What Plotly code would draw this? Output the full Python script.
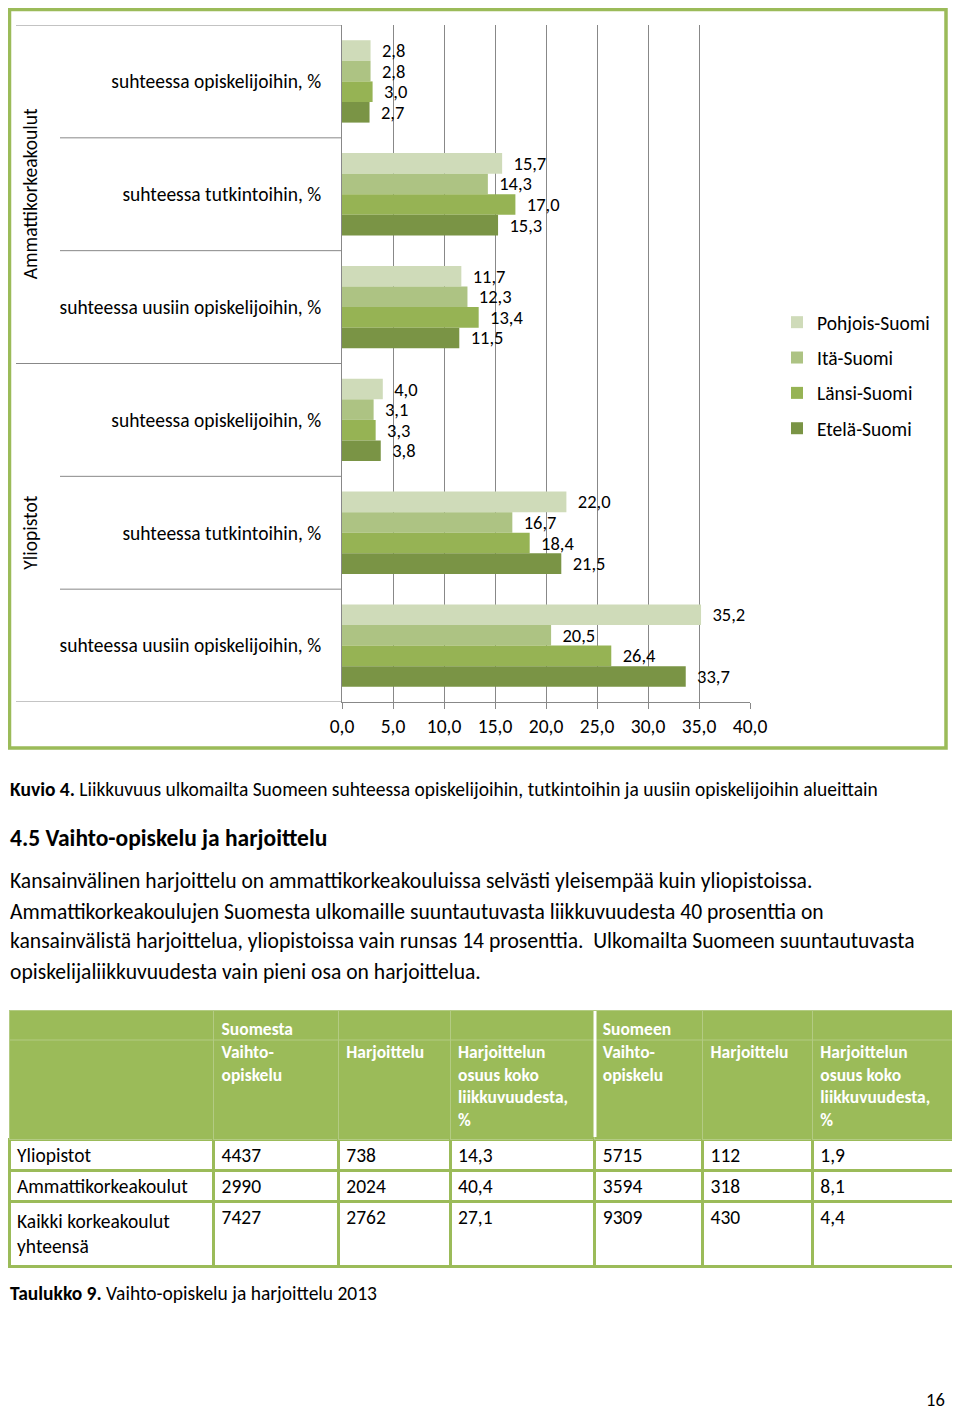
import plotly.graph_objects as go

W, H = 960, 1409
OFF = 8  # page offset of the figure (body margin)


def px(x):
    return (x - OFF) / W


def py(y):
    return 1 - (y - OFF) / H


FONT = "Carlito, Lato, sans-serif"

# ---------------- chart data ----------------
groups = ["Ammattikorkeakoulut", "Yliopistot"]
group_sizes = [3, 3]
categories = [
    "suhteessa opiskelijoihin, %",
    "suhteessa tutkintoihin, %",
    "suhteessa uusiin opiskelijoihin, %",
    "suhteessa opiskelijoihin, %",
    "suhteessa tutkintoihin, %",
    "suhteessa uusiin opiskelijoihin, %",
]
regions = ["Pohjois-Suomi", "Itä-Suomi", "Länsi-Suomi", "Etelä-Suomi"]
pohjois = [2.8, 15.7, 11.7, 4.0, 22.0, 35.2]
ita = [2.8, 14.3, 12.3, 3.1, 16.7, 20.5]
lansi = [3.0, 17.0, 13.4, 3.3, 18.4, 26.4]
etela = [2.7, 15.3, 11.5, 3.8, 21.5, 33.7]
series = [pohjois, ita, lansi, etela]
colors = ["#CFDBB9", "#ADC383", "#96B354", "#7A9445"]
x_ticks = [0, 5, 10, 15, 20, 25, 30, 35, 40]

# ---------------- table data ----------------
institutions = ["Yliopistot", "Ammattikorkeakoulut", "Kaikki korkeakoulut<br>yhteensä"]
from_exchange = [4437, 2990, 7427]
from_training = [738, 2024, 2762]
from_share = [14.3, 40.4, 27.1]
to_exchange = [5715, 3594, 9309]
to_training = [112, 318, 430]
to_share = [1.9, 8.1, 4.4]
top_headers = ["", "Suomesta", "", "", "Suomeen", "", ""]
col_headers = [[], ["Vaihto-", "opiskelu"], ["Harjoittelu"],
               ["Harjoittelun", "osuus koko", "liikkuvuudesta,", "%"],
               ["Vaihto-", "opiskelu"], ["Harjoittelu"],
               ["Harjoittelun", "osuus koko", "liikkuvuudesta,", "%"]]

caption_fig = ("Kuvio 4.", "Liikkuvuus ulkomailta Suomeen suhteessa opiskelijoihin, tutkintoihin ja uusiin opiskelijoihin alueittain")
heading = "4.5 Vaihto-opiskelu ja harjoittelu"
paragraph = [
    "Kansainvälinen harjoittelu on ammattikorkeakouluissa selvästi yleisempää kuin yliopistoissa.",
    "Ammattikorkeakoulujen Suomesta ulkomaille suuntautuvasta liikkuvuudesta 40 prosenttia on",
    "kansainvälistä harjoittelua, yliopistoissa vain runsas 14 prosenttia.  Ulkomailta Suomeen suuntautuvasta",
    "opiskelijaliikkuvuudesta vain pieni osa on harjoittelua.",
]
caption_tab = ("Taulukko 9.", "Vaihto-opiskelu ja harjoittelu 2013")
page_number = "16"

GREEN = "#9BBB59"
LIGHT = "#B3CB83"
GRID = "#888888"
FS = 19.5

fig = go.Figure()
pos = list(range(len(categories)))
for name, vals, col in zip(regions, series, colors):
    fig.add_trace(go.Bar(
        x=vals, y=pos, orientation="h", name=name, marker_color=col,
        marker_line_width=0,
        texttemplate="\u00a0\u00a0%{x:.1f}", textposition="outside",
        textfont=dict(size=18.5, color="black", family=FONT),
        cliponaxis=False, constraintext="none", legendgroup=name,
        hoverinfo="skip",
    ))


def fmt(v):
    return f"{v:.1f}".replace(".", ",")


def header_text(top, lines):
    parts = [top if top else "\u00a0"] + lines
    return "<br>".join(f"<b>{p}</b>" if p.strip("\u00a0") else p for p in parts)


headers = [header_text(t, l) for t, l in zip(top_headers, col_headers)]
columns = [
    institutions,
    [str(v) for v in from_exchange],
    [str(v) for v in from_training],
    [fmt(v) for v in from_share],
    [str(v) for v in to_exchange],
    [str(v) for v in to_training],
    [fmt(v) for v in to_share],
]

fig.add_trace(go.Table(
    domain=dict(x=[px(9), px(957)], y=[py(1300), py(1010)]),
    columnwidth=[205, 125, 112, 145, 108, 110, 144],
    header=dict(values=headers, fill_color=GREEN,
                font=dict(color="white", size=17.5, family=FONT),
                line=dict(color=LIGHT, width=1), align="left", height=128),
    cells=dict(values=columns, fill_color="white",
               font=dict(color="black", size=19.5, family=FONT),
               line=dict(color=GREEN, width=3), align="left", height=31),
))

shapes = [
    dict(type="rect", xref="paper", yref="paper", x0=px(9.5), x1=px(946),
         y0=py(748), y1=py(9.5), line=dict(color=GREEN, width=3.5), layer="below"),
]
# category dividers
start = 0
for g, n in zip(groups, group_sizes):
    for k in range(n):
        b = start + k - 0.5
        x0 = px(16) if k == 0 else px(60)
        shapes.append(dict(type="line", xref="paper", yref="y", x0=x0, x1=px(342),
                           y0=b, y1=b, line=dict(color=GRID, width=1)))
    start += n
shapes.append(dict(type="line", xref="paper", yref="y", x0=px(16), x1=px(342),
                   y0=start - 0.5, y1=start - 0.5, line=dict(color=GRID, width=1)))
# thin light line under the group row of the table header
shapes.append(dict(type="line", xref="paper", yref="paper", x0=px(10), x1=px(956),
                   y0=py(1040), y1=py(1040), line=dict(color=LIGHT, width=1), layer="above"))
# white separator in table header
shapes.append(dict(type="line", xref="paper", yref="paper", x0=px(595), x1=px(595),
                   y0=py(1137), y1=py(1011), line=dict(color="white", width=3), layer="above"))

annotations = []
start = 0
for g, n in zip(groups, group_sizes):
    annotations.append(dict(xref="paper", yref="y", x=px(30), y=start + (n - 1) / 2,
                            text=g, textangle=-90, showarrow=False,
                            xanchor="center", yanchor="middle",
                            font=dict(size=FS, color="black")))
    start += n


def left_text(y, text, size, bold_part=None):
    t = (f"<b>{bold_part}</b> " if bold_part else "") + text
    annotations.append(dict(xref="paper", yref="paper", x=px(8), y=py(y), text=t,
                            xanchor="left", yanchor="middle", showarrow=False,
                            font=dict(size=size, color="black")))


left_text(789, caption_fig[1], 19.5, caption_fig[0])
left_text(838, f"<b>{heading}</b>", 23.5)
for i, line in enumerate(paragraph):
    left_text(881 + 30 * i, line, 21.6)
left_text(1293, caption_tab[1], 19.5, caption_tab[0])
annotations.append(dict(xref="paper", yref="paper", x=px(947), y=py(1399), text=page_number,
                        xanchor="right", yanchor="middle", showarrow=False,
                        font=dict(size=18.5, color="black")))

fig.update_layout(
    width=W, height=H, margin=dict(l=0, r=0, t=0, b=0, autoexpand=False),
    paper_bgcolor="white", plot_bgcolor="white",
    font=dict(family=FONT, color="black", size=FS),
    separators=",.",
    barmode="group", bargap=0.27, bargroupgap=0,
    xaxis=dict(domain=[px(342), px(750)], range=[0, 40], tickvals=x_ticks,
               tickformat=".1f", showgrid=True, gridcolor=GRID, gridwidth=1,
               zeroline=False, showline=True, linecolor=GRID, ticks="outside",
               ticklen=6, tickcolor=GRID, tickfont=dict(size=FS),
               ticklabelstandoff=1, anchor="y", fixedrange=True, automargin=False),
    yaxis=dict(domain=[py(702), py(25)], range=[len(categories) - 0.5, -0.5],
               tickvals=pos, ticktext=categories, showline=True, linecolor=GRID,
               ticks="", showgrid=False, zeroline=False, ticklabelstandoff=16,
               tickfont=dict(size=FS), anchor="x", fixedrange=True, automargin=False),
    legend=dict(x=px(777), y=py(303), xanchor="left", yanchor="top",
                font=dict(size=FS), tracegroupgap=7, bgcolor="rgba(0,0,0,0)",
                itemwidth=30),
    shapes=shapes, annotations=annotations,
)

fig.write_html("out.html")
